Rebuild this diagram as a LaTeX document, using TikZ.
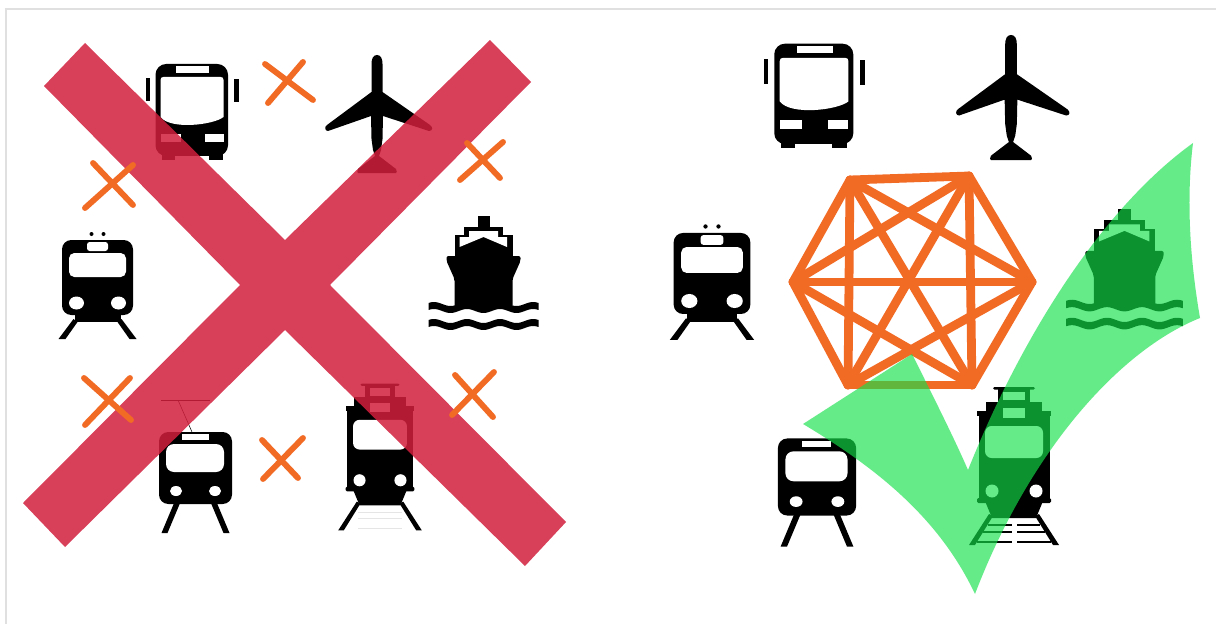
\documentclass[tikz,border=0pt]{standalone}
\definecolor{CrossRed}{RGB}{210,30,60}
\definecolor{CheckGreen}{RGB}{20,225,75}
\definecolor{LinkOrange}{RGB}{242,107,37}
\definecolor{FrameGrey}{RGB}{224,224,224}
\tikzset{
  crossmark/.style={draw=LinkOrange,line width=4.4pt,line cap=round},
  linkline/.style={draw=LinkOrange,line width=6.6pt,line cap=round},
  busicon/.pic={
    \fill (-45.5,-34) rectangle (-41.5,-11);
    \fill (42.5,-33) rectangle (47.5,-10);
    \fill (-30,40) rectangle (-17,48);
    \fill (17,40) rectangle (31,48);
    \fill[rounded corners=8pt] (-36,-48) rectangle (36.5,44);
    \fill[white] (-15.5,-46) rectangle (17.5,-39);
    \fill[white] (-31,-32) .. controls (-31,-34) and (-30,-35) .. (-28,-35) -- (29,-35) .. controls (31,-35) and (32,-34) .. (32,-32)
      -- (32,5) .. controls (22,13) and (-21,18) .. (-31,5) -- cycle;
    \fill[white] (-31,22) rectangle (-11,30);
    \fill[white] (13,22) rectangle (32,30);
  },
  planeicon/.pic={
    \fill (0,-59) .. controls (4,-59) and (5.5,-55) .. (5.5,-50) -- (5.5,-22) -- (53,11)
      .. controls (56,13) and (56,17) .. (52,17) -- (6,2) -- (5.5,25) -- (4,36) -- (2,42) -- (19,55)
      .. controls (20,57) and (20,59) .. (19,59) -- (-19,59) .. controls (-20,59) and (-20,57) .. (-19,55)
      -- (-2,42) -- (-4,36) -- (-5.5,25) -- (-6,2) -- (-49,17) .. controls (-52,17) and (-53,13) .. (-50,11)
      -- (-5.5,-22) -- (-5.5,-50) .. controls (-5.5,-55) and (-4,-59) .. (0,-59) -- cycle;
  },
  trainicon/.pic={
    \fill (-6,-44) circle (2);
    \fill (6,-44) circle (2);
    \fill[rounded corners=7pt] (-35.5,-38) rectangle (35.5,37);
    \fill (-23,35) rectangle (23,44);
    \fill (-24,41) -- (-20,44) -- (-32,61) -- (-39,61) -- cycle;
    \fill (24,41) -- (20,44) -- (32,61) -- (39,61) -- cycle;
    \fill[white,rounded corners=2pt] (-10.5,-36) rectangle (10.5,-27);
    \fill[white,rounded corners=4pt] (-28.5,-25) rectangle (28.5,-1);
    \fill[white] (-21,25) ellipse (7.5 and 6.5);
    \fill[white] (21,25) ellipse (7.5 and 6.5);
  },
  metroicon/.pic={
    \fill[rounded corners=7pt] (-36.5,-36) rectangle (36.5,36);
    \fill (-21,34) -- (-15,34) -- (-28,65) -- (-34,65) -- cycle;
    \fill (21,34) -- (15,34) -- (28,65) -- (34,65) -- cycle;
    \fill[white] (-14,-34) rectangle (13.5,-28);
    \fill[white,rounded corners=6pt] (-29.5,-24) rectangle (28.5,4);
    \fill[white] (-19.5,23) ellipse (6 and 5);
    \fill[white] (19.5,23) ellipse (6 and 5);
  },
  tramicon/.pic={
    \fill[rounded corners=1pt] (-21,-79) rectangle (21,-76.5);
    \fill (-16,-77) rectangle (16,-60);
    \fill (-28,-64) rectangle (28,-50);
    \fill (-37,-55) rectangle (37,-50);
    \fill (-35.5,-52) rectangle (35.5,35);
    \fill[rounded corners=1pt] (-37,32) rectangle (37,37);
    \fill (-29,35) -- (-22,52) -- (22,52) -- (29,35) -- cycle;
    \fill (-25,48) -- (-21,50) -- (-39,79) -- (-45,79) -- cycle;
    \fill (25,48) -- (21,50) -- (39,79) -- (45,79) -- cycle;
    \fill[white] (-11,-74) rectangle (11,-66);
    \fill[white] (-11,-58) rectangle (11,-48);
    \fill[white,rounded corners=5pt] (-29,-40) rectangle (29,-8);
    \fill[white] (-22,25) circle (6.5);
    \fill[white] (22,25) circle (6.5);
  },
  shipicon/.pic={
    \fill (-6,-57) rectangle (6,-45);
    \fill (-19.5,-46) rectangle (19.5,-36);
    \fill (-29,-38) rectangle (29,-15);
    \fill[rounded corners=1.5pt] (-37,-17) -- (37,-17) -- (37,-12) -- (29,6) -- (29,34) -- (-29,34) -- (-29,6) -- (-37,-12) -- cycle;
    \fill[white] (-14.5,-42) -- (14.5,-42) -- (14.5,-36) -- (23.5,-36) -- (23.5,-26) -- (0,-36) -- (-24,-26) -- (-24,-36) -- (-14.5,-36) -- cycle;
    \fill plot[domain=-55:55,samples=60] (\x,{31+2*cos(\x*10.9)}) -- plot[domain=55:-55,samples=60] (\x,{38+2*cos(\x*10.9)}) -- cycle;
    \fill plot[domain=-55:55,samples=60] (\x,{48+2*cos(\x*10.9)}) -- plot[domain=55:-55,samples=60] (\x,{55+2*cos(\x*10.9)}) -- cycle;
  },
}

\begin{document}
\begin{tikzpicture}[x=0.75pt,y=-0.75pt]
    \useasboundingbox (0,0) rectangle (1216,624);
    \fill[white] (0,0) rectangle (1216,624);
    \draw[FrameGrey,line width=1.2pt] (6,624) -- (6,9) -- (1216,9);

    \pic at (191.5,112) {busicon};
    \pic at (377,114) {planeicon};
    \pic at (97.5,278) {trainicon};
    \pic at (483.5,273) {shipicon};
    \pic at (195.5,468) {metroicon};
    \pic[scale=0.93] at (380,457) {tramicon};
    \draw[line width=0.4pt] (161,400) -- (210,400);
    \draw[line width=0.4pt] (178,400) -- (192,432);
    \foreach \ty in {512,518,528}
      \draw[black!10,line width=0.4pt] (358,\ty) -- (402,\ty);

    \fill[CrossRed,opacity=0.85] (85,43) -- (285,240) -- (490,40) -- (531,82) -- (330,285) -- (566,522) -- (525,566)
      -- (285,330) -- (65,547) -- (23,503) -- (240,285) -- (44,86) -- cycle;

    \draw[crossmark] (265,64) -- (313,100);
    \draw[crossmark] (268,103) -- (303,62);
    \draw[crossmark] (93,163) -- (133,205);
    \draw[crossmark] (85,208) -- (133,165);
    \draw[crossmark] (467,143) -- (500,178);
    \draw[crossmark] (460,180) -- (503,142);
    \draw[crossmark] (84,378) -- (131,420);
    \draw[crossmark] (85,425) -- (130,378);
    \draw[crossmark] (262,440) -- (298,478);
    \draw[crossmark] (263,479) -- (303,438);
    \draw[crossmark] (455,375) -- (493,417);
    \draw[crossmark] (452,415) -- (494,372);

    \pic[scale=1.09] at (813.5,96) {busicon};
    \pic[scale=1.06] at (1011,97.5) {planeicon};
    \pic[scale=1.08] at (712,274) {trainicon};
    \pic[scale=1.06] at (1124.5,269) {shipicon};
    \pic[scale=1.07] at (817,477) {metroicon};
    \pic at (1014,466) {tramicon};
    \foreach \ty/\tx in {525/26,532/31,542/37} {
      \draw[line width=1.6pt] (1014-\tx,\ty) -- (1012,\ty);
      \draw[line width=1.6pt] (1017,\ty) -- (1014+\tx,\ty);
    }

    \coordinate (v1) at (850,180);
    \coordinate (v2) at (969,176);
    \coordinate (v3) at (1032,282);
    \coordinate (v4) at (972,385);
    \coordinate (v5) at (848,385);
    \coordinate (v6) at (793,282);
    \foreach \a/\b in {v1/v2,v1/v3,v1/v4,v1/v5,v1/v6,v2/v3,v2/v4,v2/v5,v2/v6,v3/v4,v3/v5,v3/v6,v4/v5,v4/v6,v5/v6}
      \draw[linkline] (\a) -- (\b);

    \fill[CheckGreen,opacity=0.65] (803,424) -- (912,354) .. controls (935,400) and (955,440) .. (968,470)
      .. controls (1020,340) and (1100,210) .. (1193,143) .. controls (1186,200) and (1190,260) .. (1200,318)
      .. controls (1120,350) and (1030,450) .. (975,594) .. controls (940,520) and (880,470) .. (803,424) -- cycle;
  \end{tikzpicture}
\end{document}
